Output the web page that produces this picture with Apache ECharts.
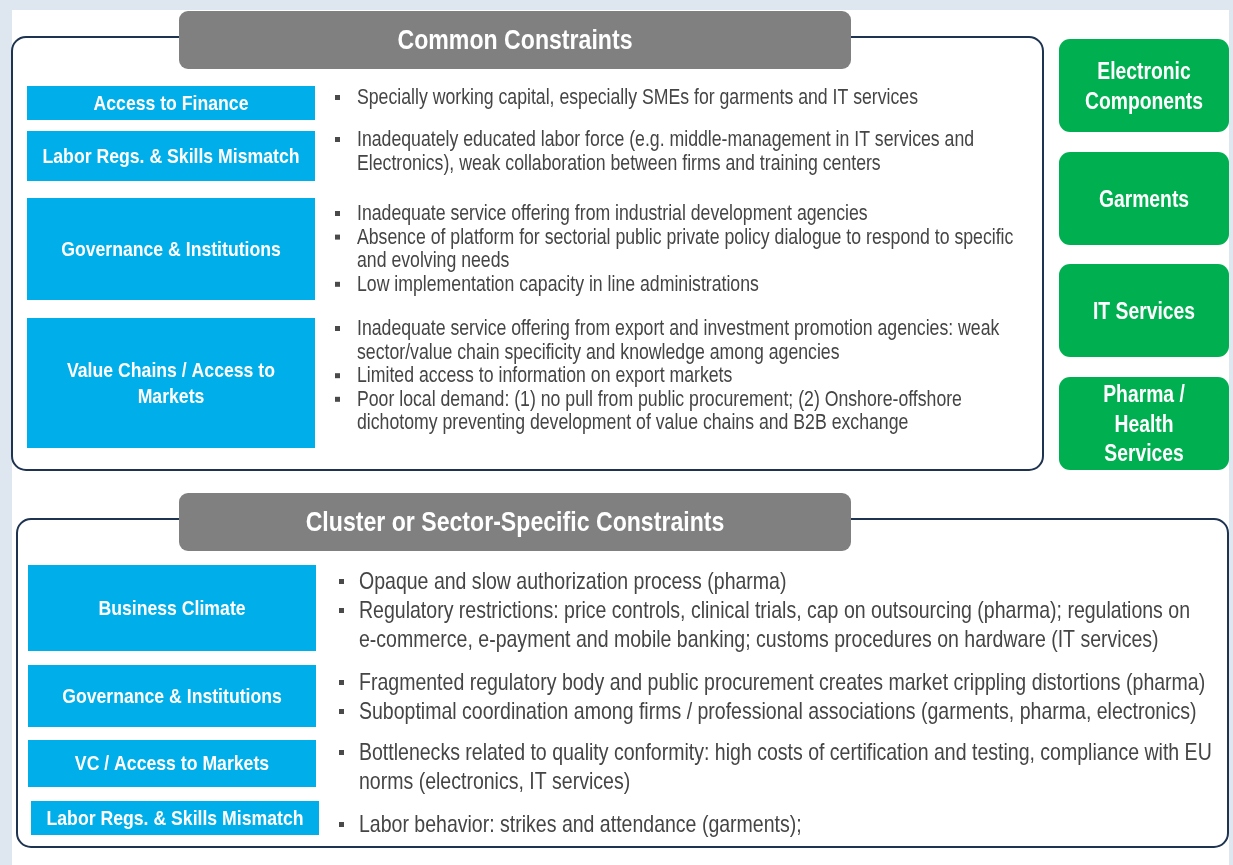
<!DOCTYPE html>
<html>
<head>
<meta charset="utf-8">
<script src="https://cdn.jsdelivr.net/npm/echarts@6/dist/echarts.min.js"></script>
<style>
html,body{margin:0;padding:0;background:#dee6f0;}
#chart{width:1233px;height:865px;}
</style>
</head>
<body>
<div id="chart"></div>
<script>
// ---------------- DATA ----------------
const commonTitle = "Common Constraints";
const commonCategories = [
  ["Access to Finance"],
  ["Labor Regs. & Skills Mismatch"],
  ["Governance & Institutions"],
  ["Value Chains / Access to", "Markets"]
];
const commonBullets = [
  [["Specially working capital, especially SMEs for garments and IT services"]],
  [["Inadequately educated labor force (e.g. middle-management in IT services and", "Electronics), weak collaboration between firms and training centers"]],
  [["Inadequate service offering from industrial development agencies"],
   ["Absence of platform for sectorial public private policy dialogue to respond to specific", "and evolving needs"],
   ["Low implementation capacity in line administrations"]],
  [["Inadequate service offering from export and investment promotion agencies: weak", "sector/value chain specificity and knowledge among agencies"],
   ["Limited access to information on export markets"],
   ["Poor local demand: (1) no pull from public procurement; (2) Onshore-offshore", "dichotomy preventing development of value chains and B2B exchange"]]
];
const sectors = [
  ["Electronic", "Components"],
  ["Garments"],
  ["IT Services"],
  ["Pharma /", "Health", "Services"]
];
const specificTitle = "Cluster or Sector-Specific Constraints";
const specificCategories = [
  ["Business Climate"],
  ["Governance & Institutions"],
  ["VC / Access to Markets"],
  ["Labor Regs. & Skills Mismatch"]
];
const specificBullets = [
  [["Opaque and slow authorization process (pharma)"],
   ["Regulatory restrictions: price controls, clinical trials, cap on outsourcing (pharma); regulations on", "e-commerce, e-payment and mobile banking; customs procedures on hardware (IT services)"]],
  [["Fragmented regulatory body and public procurement creates market crippling distortions (pharma)"],
   ["Suboptimal coordination among firms / professional associations (garments, pharma, electronics)"]],
  [["Bottlenecks related to quality conformity: high costs of certification and testing, compliance with EU", "norms (electronics, IT services)"]],
  [["Labor behavior: strikes and attendance (garments);"]]
];

// ---------------- LAYOUT / STYLE ----------------
const FAM = "'Liberation Sans', Arial, sans-serif";
const C_BLUE = '#00aeea', C_GREEN = '#00b050', C_GRAY = '#808080', C_LINE = '#1d3350', C_TEXT = '#454545';
const cv = document.createElement('canvas').getContext('2d');
function measure(t, font){ cv.font = font; return cv.measureText(t).width; }
function fitScale(t, font, target){ return target / measure(t, font); }

const F_TITLE = 'bold 28px ' + FAM;
const F_LABEL = 'bold 20.5px ' + FAM;
const F_GREEN = 'bold 23px ' + FAM;
const F_TOP = '21.5px ' + FAM;
const F_BOT = '24px ' + FAM;
const S_TITLE = fitScale(commonTitle, F_TITLE, 235);
const S_LABEL = fitScale(commonCategories[1][0], F_LABEL, 257);
const S_GREEN = fitScale(sectors[0][1], F_GREEN, 118);
const S_TOP = fitScale(commonBullets[0][0][0], F_TOP, 561);
const S_BOT = fitScale(specificBullets[0][1][0], F_BOT, 831);
const DY = 1; // baseline nudge

const els = [];
function txt(x, y, t, font, fill, scale, align){
  els.push({type:'group', x:x, y:y + DY, scaleX:scale, children:[
    {type:'text', style:{x:0, y:0, text:t, font:font, fill:fill, align:align||'left', verticalAlign:'middle'}}
  ]});
}
function rect(x, y, w, h, r, fill, stroke, lw){
  els.push({type:'rect', shape:{x:x, y:y, width:w, height:h, r:r||0},
    style:{fill:fill||'none', stroke:stroke||null, lineWidth:lw||0}});
}

// white page
rect(12, 10, 1217, 855, 0, '#ffffff');

function panel(p){
  rect(p.x, p.y, p.w, p.h, 14, null, C_LINE, 2);
  rect(179, p.ty, 672, 58, 9, C_GRAY);
  txt(515, p.ty + 29, p.title, F_TITLE, '#ffffff', S_TITLE, 'center');
  p.cats.forEach((lines, i) => {
    const b = p.boxes[i];
    rect(b[0], b[1], 288, b[2] - b[1], 0, C_BLUE);
    const cy = (b[1] + b[2]) / 2, lh = 26;
    lines.forEach((l, k) => txt(b[0] + 144, cy + (k - (lines.length - 1) / 2) * lh, l, F_LABEL, '#ffffff', S_LABEL, 'center'));
  });
  p.bullets.forEach((group, i) => {
    let y = p.starts[i];
    group.forEach(bullet => {
      rect(p.bx - 2, y - 3 + DY, 5, 5, 0, '#4a4a4a');
      bullet.forEach(line => { txt(p.tx, y, line, p.font, C_TEXT, p.scale); y += p.step; });
    });
  });
}

panel({x:12, y:37, w:1031, h:433, ty:11, title:commonTitle, cats:commonCategories,
  boxes:[[27,86,120],[27,131,181],[27,198,300],[27,318,448]],
  bullets:commonBullets, starts:[97,139,213,328], step:23.6, bx:337, tx:357, font:F_TOP, scale:S_TOP});
panel({x:17, y:519, w:1211, h:328, ty:493, title:specificTitle, cats:specificCategories,
  boxes:[[28,565,651],[28,665,727],[28,740,787],[31,801,835]],
  bullets:specificBullets, starts:[581,682,752,824], step:29, bx:341, tx:359, font:F_BOT, scale:S_BOT});

// sector boxes
const greenBoxes = [[39,132],[152,245],[264,357],[377,470]];
sectors.forEach((lines, i) => {
  const g = greenBoxes[i];
  rect(1059, g[0], 170, g[1] - g[0], 11, C_GREEN);
  const cy = (g[0] + g[1]) / 2 + 1, lh = 29.5;
  lines.forEach((l, k) => txt(1144, cy + (k - (lines.length - 1) / 2) * lh, l, F_GREEN, '#ffffff', S_GREEN, 'center'));
});

const chart = echarts.init(document.getElementById('chart'), null, {renderer:'canvas'});
chart.setOption({backgroundColor:'#dee6f0', animation:false, graphic:{elements:els}});
</script>
</body>
</html>
